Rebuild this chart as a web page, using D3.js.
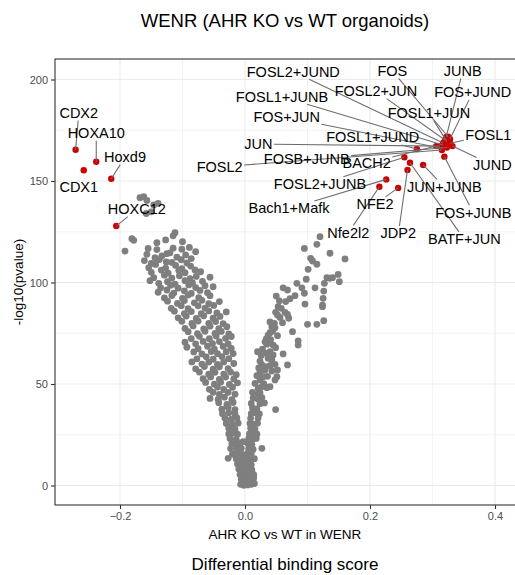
<!DOCTYPE html>
<html><head><meta charset="utf-8">
<script src="https://cdn.jsdelivr.net/npm/d3@7"></script>
<style>
body{margin:0;background:#fff}
text{font-family:"Liberation Sans",Arial,Helvetica,sans-serif}
</style>
</head><body>
<svg id="c" width="515" height="575"></svg>
<script>
// ---------------- DATA ----------------
const chartTitle = "WENR (AHR KO vs WT organoids)";
const xAxisTitle = "AHR KO vs WT in WENR";
const bottomCaption = "Differential binding score";
const yAxisTitle = "-log10(pvalue)";

const xTicks = [-0.2, 0.0, 0.2, 0.4];
const xMinorTicks = [-0.1, 0.1, 0.3];
const yTicks = [0, 50, 100, 150, 200];
const yMinorTicks = [25, 75, 125, 175];

// unlabeled motifs: [score, -log10(p)]
const grayPoints = [
[-0.168,141.8],[-0.162,142.3],[-0.157,140.4],[-0.146,138.2],[-0.139,139.0],[-0.150,134.8],[-0.158,134.0],
[-0.112,124.5],[-0.115,123.0],[-0.181,121.6],[-0.178,120.8],[-0.192,115.5],[-0.155,116.8],[-0.141,119.6],[-0.127,121.0],[-0.100,120.1],[-0.079,115.2],[-0.141,116.2],[-0.115,116.9],[-0.101,116.4],[-0.125,114.2],[-0.089,117.3],
[-0.157,113.9],[-0.144,112.2],[-0.133,113.1],[-0.120,114.6],[-0.109,112.5],[-0.095,113.6],[-0.086,111.8],
[-0.161,110.8],[-0.150,109.4],[-0.137,111.3],[-0.126,110.1],[-0.117,109.9],[-0.102,111.2],[-0.093,109.6],
[-0.154,107.3],[-0.143,108.9],[-0.127,107.1],[-0.111,108.4],[-0.101,106.8],[-0.087,108.1],
[-0.150,105.0],[-0.134,106.1],[-0.123,104.6],[-0.106,105.9],[-0.096,104.8],[-0.080,106.2],[-0.071,105.3],
[-0.146,102.4],[-0.129,103.6],[-0.117,102.2],[-0.105,103.3],[-0.088,101.9],[-0.078,103.0],[-0.056,102.6],
[-0.152,100.9],[-0.138,99.6],[-0.124,100.4],[-0.112,99.2],[-0.096,100.9],[-0.084,99.8],[-0.068,100.6],
[-0.135,97.4],[-0.119,98.6],[-0.107,97.2],[-0.090,98.8],[-0.079,97.5],[-0.064,98.4],[-0.051,97.9],
[-0.139,95.2],[-0.125,96.3],[-0.114,94.8],[-0.097,95.9],[-0.086,94.6],[-0.072,96.1],[-0.060,95.0],
[-0.129,92.4],[-0.117,93.6],[-0.100,92.2],[-0.091,93.8],[-0.074,92.5],[-0.056,93.5],
[-0.124,90.8],[-0.108,89.7],[-0.097,91.1],[-0.081,90.0],[-0.069,91.2],[-0.058,89.6],[-0.041,90.6],
[-0.118,87.3],[-0.102,88.6],[-0.091,87.1],[-0.075,88.5],[-0.064,87.4],[-0.050,88.7],
[-0.113,85.9],[-0.097,84.7],[-0.086,85.7],[-0.070,84.6],[-0.058,86.0],[-0.045,85.0],[-0.030,85.5],
[-0.107,82.6],[-0.094,83.5],[-0.078,82.3],[-0.066,83.6],[-0.051,82.4],[-0.040,83.3],
[-0.101,80.9],[-0.085,79.8],[-0.075,81.0],[-0.058,79.9],[-0.047,80.8],[-0.035,79.7],
[-0.096,77.4],[-0.083,78.6],[-0.066,77.2],[-0.056,78.5],[-0.042,77.3],[-0.029,78.2],
[-0.091,75.8],[-0.076,74.8],[-0.064,76.0],[-0.048,74.9],[-0.038,75.9],[-0.026,74.7],
[-0.086,72.4],[-0.073,73.5],[-0.057,72.3],[-0.046,73.6],[-0.031,72.5],[-0.022,73.4],
[-0.096,70.6],[-0.079,69.8],[-0.067,71.0],[-0.052,69.9],[-0.041,70.9],[-0.027,69.7],
[-0.093,68.1],[-0.075,67.4],[-0.060,68.6],[-0.049,67.2],[-0.035,68.5],[-0.022,67.5],
[-0.082,65.8],[-0.069,64.8],[-0.054,66.0],[-0.044,64.9],[-0.030,65.9],[-0.019,65.0],
[-0.077,62.4],[-0.062,63.4],[-0.051,62.2],[-0.037,63.5],[-0.026,62.5],
[-0.085,60.9],[-0.069,59.8],[-0.058,60.8],[-0.044,59.7],[-0.034,60.9],[-0.018,60.1],
[-0.079,57.5],[-0.065,58.6],[-0.051,57.3],[-0.041,58.5],[-0.027,57.6],
[-0.073,55.9],[-0.058,54.8],[-0.048,55.8],[-0.034,54.9],[-0.023,55.9],[-0.014,54.6],
[-0.067,52.6],[-0.055,53.5],[-0.041,52.3],[-0.031,53.4],[-0.018,52.5],
[-0.063,50.8],[-0.049,49.9],[-0.039,50.9],[-0.025,49.8],[-0.012,50.6],
[-0.057,47.4],[-0.044,48.5],[-0.034,47.3],[-0.020,48.4],
[-0.051,45.9],[-0.041,44.9],[-0.027,45.9],[-0.016,45.0],
[-0.056,42.9],[-0.043,42.4],[-0.033,43.5],[-0.021,42.3],
[-0.042,40.8],[-0.029,39.9],[-0.019,40.9],
[-0.037,37.6],[-0.027,38.5],[-0.016,37.4],
[-0.036,35.4],[-0.026,35.9],[-0.016,35.3],
[-0.032,33.1],[-0.022,32.7],[-0.013,33.3],
[-0.030,30.6],[-0.020,30.2],[-0.011,30.7],
[-0.026,28.2],[-0.016,27.8],
[-0.026,25.4],[-0.019,25.8],[-0.012,25.3],
[-0.024,23.1],[-0.014,22.7],
[-0.021,20.6],[-0.014,20.2],[-0.008,20.7],
[-0.023,18.2],[-0.013,17.8],[-0.006,18.3],
[-0.020,15.4],[-0.011,15.8],[-0.004,15.3],
[-0.014,13.1],[-0.008,12.7],[-0.002,13.2],[-0.027,13.4],
[-0.012,10.6],[-0.005,10.2],[0.001,10.7],
[-0.010,8.1],[-0.004,7.7],[0.002,8.2],
[-0.008,5.4],[-0.002,5.8],[0.004,5.3],
[-0.006,3.1],[0.000,2.7],[0.006,3.2],
[-0.004,1.2],[0.002,0.8],[0.008,1.1],[0.012,0.9],[-0.002,0.1],[0.004,0.3],
[0.008,4.3],[0.011,6.2],[-0.001,6.8],[0.005,11.9],[0.010,1.9],[-0.007,0.6],[0.014,3.8],[0.000,14.5],[0.006,16.9],[-0.003,21.6],
[0.120,122.6],[0.115,118.8],[0.095,116.8],[0.136,114.4],[0.160,111.6],[0.105,111.9],[0.108,110.6],[0.115,109.0],[0.101,106.5],[0.149,104.0],
[0.151,100.4],[0.131,102.4],[0.136,102.1],[0.140,102.4],[0.127,99.6],[0.098,101.6],[0.083,99.6],[0.112,97.4],[0.091,97.4],[0.061,97.4],
[0.068,96.3],[0.095,94.7],[0.080,93.5],[0.050,93.3],[0.126,95.8],[0.125,92.2],[0.124,88.9],[0.124,88.1],[0.096,89.4],[0.053,88.1],
[0.049,85.3],[0.052,84.0],[0.064,85.3],[0.068,84.3],[0.070,82.4],[0.060,80.2],[0.047,79.9],[0.043,78.2],[0.048,77.7],[0.100,79.4],
[0.115,79.4],[0.126,81.2],[0.076,75.8],[0.040,75.3],[0.037,74.1],[0.052,73.8],[0.032,70.8],[0.035,69.6],[0.045,69.2],[0.049,67.9],
[0.085,71.2],[0.085,69.2],[0.020,65.9],[0.034,65.1],[0.040,65.9],[0.061,64.8],[0.037,62.7],[0.043,61.8],[0.027,59.4],[0.032,58.5],
[0.040,59.0],[0.048,59.7],[0.068,59.4],[0.024,56.1],[0.032,56.9],[0.043,56.4],[0.052,56.9],[0.024,52.0],[0.029,53.6],[0.048,52.0],
[0.021,47.9],[0.027,48.7],[0.035,48.2],[0.040,48.7],[0.021,45.4],[0.051,53.6],
[0.016,50.3],[0.030,50.2],[0.019,54.1],[0.036,53.8],[0.022,57.9],[0.024,61.2],
[0.026,64.1],[0.045,64.3],[0.028,67.2],[0.034,72.2],[0.041,71.8],[0.044,76.0],[0.040,80.6],
[0.056,82.8],[0.058,87.3],[0.055,91.0],[0.065,90.6],[0.072,92.0],
[0.012,45.9],[0.024,45.7],
[0.013,43.2],[0.020,42.8],[0.027,43.3],
[0.010,40.4],[0.024,40.3],[0.031,40.7],
[0.012,38.2],[0.019,37.8],[0.049,37.4],
[0.010,35.4],[0.016,35.9],[0.023,35.3],
[0.009,33.1],[0.021,33.3],
[0.008,30.6],[0.014,30.2],[0.020,30.7],
[0.009,28.2],[0.016,27.8],
[0.007,25.4],[0.013,25.8],[0.019,25.3],
[0.006,23.1],[0.012,22.7],[0.018,23.2],
[0.005,20.6],[0.011,20.2],
[0.006,18.2],[0.013,17.8],[0.027,18.3],
[0.004,15.4],[0.010,15.8],
[0.003,13.1],[0.009,12.7],[0.015,13.2],
[0.004,10.6],[0.010,10.2],
[0.005,8.1],[0.011,7.7],
[0.006,5.4],[0.014,5.3],
[0.008,3.1],[0.012,2.7],[0.015,1.0],[0.010,0.6]
];

// labelled (significant) motifs
const hitNames = ["CDX2","HOXA10","CDX1","Hoxd9","HOXC12",
  "FOS","JUNB","FOS+JUND","FOSL2+JUN","FOSL1+JUN","FOSL1","JUND","FOSL1+JUNB","FOS+JUN","BACH2",
  "FOSL2+JUND","JUN","FOSL2","FOSB+JUNB","FOSL1+JUND","FOS+JUNB","FOSL2+JUNB","BATF+JUN","JUN+JUNB",
  "JDP2","Bach1+Mafk","Nfe2l2","NFE2"];
const hitScore = [-0.271,-0.238,-0.258,-0.214,-0.206,
  0.325,0.322,0.328,0.320,0.323,0.328,0.332,0.317,0.315,0.306,
  0.317,0.312,0.315,0.323,0.275,0.319,0.255,0.264,0.285,
  0.260,0.226,0.215,0.245];
const hitLogP = [165.4,159.5,155.3,151.1,127.8,
  171.8,171.7,170.7,170.2,169.4,168.6,167.2,167.7,166.1,167.2,
  168.7,167.2,165.3,166.5,165.8,162.0,161.7,159.0,157.9,
  155.4,150.8,147.2,146.6];
// repelled label anchor positions (in data units)
const labelScore = [-0.266,-0.238,-0.266,-0.192,-0.173,
  0.2357,0.3483,0.3643,0.2096,0.2944,0.3893,0.3957,0.0592,0.0667,0.1947,
  0.0773,0.0213,-0.0405,0.0987,0.2043,0.3653,0.1200,0.3509,0.3189,
  0.2453,0.0704,0.1653,0.2080];
const labelLogP = [183.5,173.6,147.0,161.8,136.2,
  204.3,204.3,193.7,194.3,183.6,172.7,157.9,191.5,181.4,158.7,
  203.8,168.2,157.0,160.7,171.5,134.4,148.4,121.3,147.2,
  124.2,136.5,124.5,138.5];

// ---------------- DRAW ----------------
const panel = {l:55, t:59, r:516, b:505};
const x = d3.scaleLinear().domain([-0.304, 0.4336]).range([panel.l, panel.r]);
const y = d3.scaleLinear().domain([-9.6, 210.1]).range([panel.b, panel.t]);
const svg = d3.select("#c");

svg.append("defs").append("clipPath").attr("id","pc")
  .append("rect").attr("x",panel.l).attr("y",panel.t)
  .attr("width",panel.r-panel.l).attr("height",panel.b-panel.t);

const grid = svg.append("g");
grid.selectAll("line.xm").data(xMinorTicks).join("line")
  .attr("x1",d=>x(d)).attr("x2",d=>x(d)).attr("y1",panel.t).attr("y2",panel.b)
  .attr("stroke","#ebebeb").attr("stroke-width",0.6);
grid.selectAll("line.ym").data(yMinorTicks).join("line")
  .attr("y1",d=>y(d)).attr("y2",d=>y(d)).attr("x1",panel.l).attr("x2",panel.r)
  .attr("stroke","#ebebeb").attr("stroke-width",0.6);
grid.selectAll("line.xM").data(xTicks).join("line")
  .attr("x1",d=>x(d)).attr("x2",d=>x(d)).attr("y1",panel.t).attr("y2",panel.b)
  .attr("stroke","#ebebeb").attr("stroke-width",1.1);
grid.selectAll("line.yM").data(yTicks).join("line")
  .attr("y1",d=>y(d)).attr("y2",d=>y(d)).attr("x1",panel.l).attr("x2",panel.r)
  .attr("stroke","#ebebeb").attr("stroke-width",1.1);

const plot = svg.append("g").attr("clip-path","url(#pc)");
plot.selectAll("circle.g").data(grayPoints).join("circle")
  .attr("cx",d=>x(d[0])).attr("cy",d=>y(d[1])).attr("r",3.4).attr("fill","#7f7f7f");

const hits = hitNames.map((n,i)=>({name:n, sx:hitScore[i], sy:hitLogP[i], lx:labelScore[i], ly:labelLogP[i]}));
plot.selectAll("circle.h").data(hits).join("circle")
  .attr("cx",d=>x(d.sx)).attr("cy",d=>y(d.sy)).attr("r",3.2).attr("fill","#cc0000");

// labels with leader segments
const segG = svg.append("g");
const labG = svg.append("g");
const texts = labG.selectAll("text").data(hits).join("text")
  .attr("x",d=>x(d.lx)).attr("y",d=>y(d.ly)).attr("dy","0.35em")
  .attr("text-anchor","middle").attr("font-size",14.5).attr("fill","#000")
  .text(d=>d.name);
texts.each(function(d){
  const bb = this.getBBox();
  const pad = 1.5;
  const x0=bb.x-pad, x1=bb.x+bb.width+pad, y0=bb.y+2-pad, y1=bb.y+bb.height-2+pad;
  const cx=(x0+x1)/2, cy=(y0+y1)/2;
  const px=x(d.sx), py=y(d.sy);
  const dx=px-cx, dy=py-cy;
  let t=1;
  if (dx!==0) t=Math.min(t, ((dx>0?x1:x0)-cx)/dx);
  if (dy!==0) t=Math.min(t, ((dy>0?y1:y0)-cy)/dy);
  if (t>=1) return;
  const sx=cx+dx*t, sy=cy+dy*t;
  const len=Math.hypot(px-sx,py-sy);
  if (len<10) return;
  segG.append("line").attr("x1",sx).attr("y1",sy).attr("x2",px).attr("y2",py)
    .attr("stroke","#6e6e6e").attr("stroke-width",1.1);
});

// panel border
svg.append("rect").attr("x",panel.l).attr("y",panel.t)
  .attr("width",panel.r-panel.l).attr("height",panel.b-panel.t)
  .attr("fill","none").attr("stroke","#333").attr("stroke-width",1.1);

// axes
const fmt = d3.format(".1f");
const xAxis = svg.append("g").attr("transform",`translate(0,${panel.b})`)
  .call(d3.axisBottom(x).tickValues(xTicks).tickFormat(fmt).tickSize(4).tickPadding(3));
const yAxis = svg.append("g").attr("transform",`translate(${panel.l},0)`)
  .call(d3.axisLeft(y).tickValues(yTicks).tickFormat(d3.format("d")).tickSize(4).tickPadding(3));
[xAxis,yAxis].forEach(a=>{
  a.select(".domain").remove();
  a.selectAll(".tick line").attr("stroke","#333").attr("stroke-width",1.1);
  a.selectAll(".tick text").attr("fill","#4d4d4d").attr("font-size",11)
    .attr("font-family","'Liberation Sans',Arial,sans-serif");
});

svg.append("text").attr("x",285).attr("y",27).attr("text-anchor","middle")
  .attr("font-size",18.5).attr("fill","#000").text(chartTitle);
svg.append("text").attr("x",285).attr("y",539).attr("text-anchor","middle")
  .attr("font-size",13.5).attr("fill","#000").text(xAxisTitle);
svg.append("text").attr("x",285).attr("y",569.5).attr("text-anchor","middle")
  .attr("font-size",17).attr("fill","#000").text(bottomCaption);
svg.append("text").attr("transform","translate(22.5,282) rotate(-90)").attr("text-anchor","middle")
  .attr("font-size",13.5).attr("fill","#000").text(yAxisTitle);
</script>
</body></html>
